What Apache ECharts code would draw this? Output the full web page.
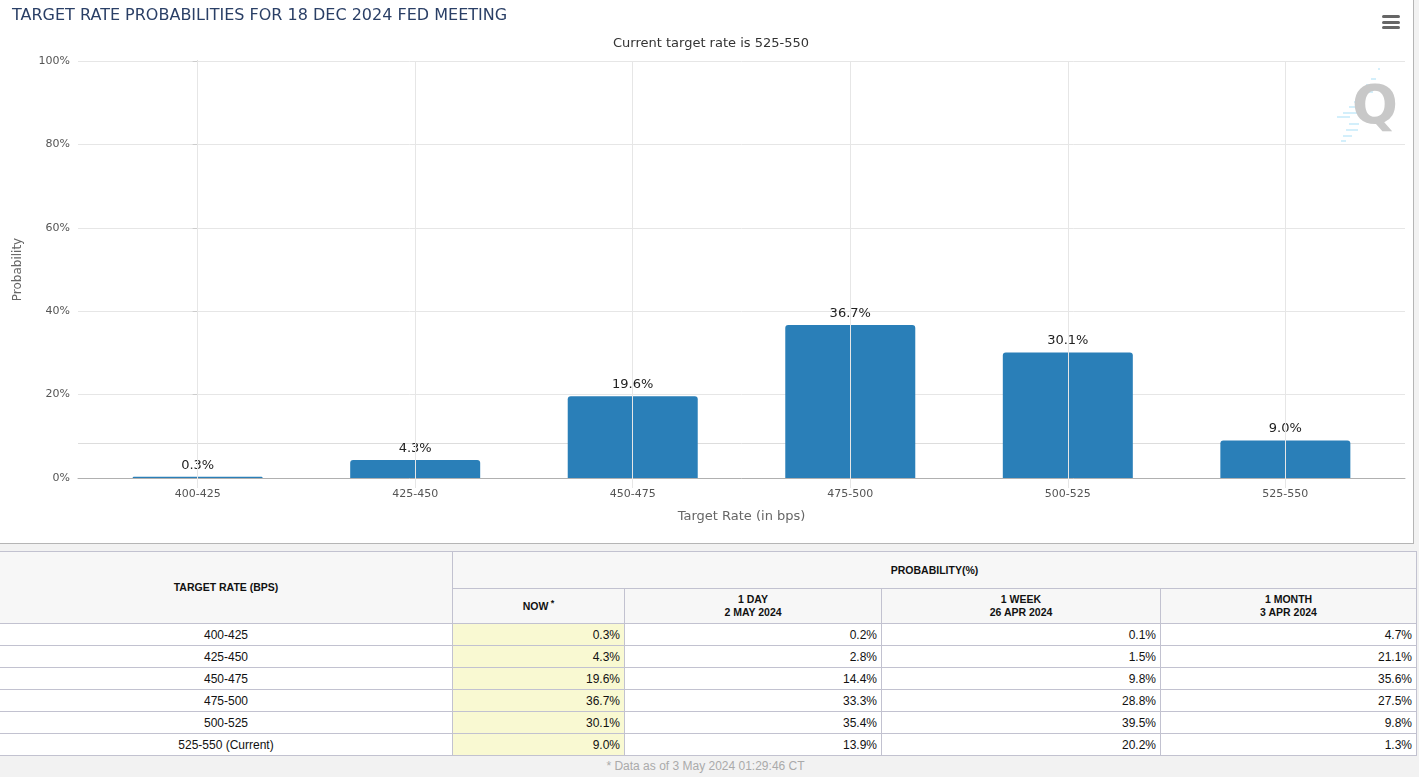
<!DOCTYPE html>
<html>
<head>
<meta charset="utf-8">
<title>Target rate probabilities</title>
<script src="https://cdn.jsdelivr.net/npm/echarts@6/dist/echarts.min.js"></script>
<style>
  html, body { margin: 0; padding: 0; width: 1419px; height: 777px; overflow: hidden; background: #f2f2f2; }
  #chart { position: absolute; left: 0; top: 0; width: 1413px; height: 543px; background: #fff; border-right: 1px solid #b5b5b5; border-bottom: 1px solid #b5b5b5; }
  #rates { position: absolute; left: -1px; top: 551px; width: 1417px; table-layout: fixed; border-collapse: collapse; font-family: "Liberation Sans", Arial, sans-serif; font-size: 12px; color: #111; }
  #rates th, #rates td { border: 1px solid #c2c2d0; padding: 0; box-sizing: border-box; }
  #rates th { background: #f7f7f7; font-size: 10.5px; line-height: 13px; font-weight: bold; text-align: center; }
  #rates td { background: #fff; height: 22px; text-align: right; padding-right: 4px; }
  #rates td.rate { text-align: center; padding-right: 0; }
  #rates td.now { background: #f9f9d2; }
  #rates sup { font-size: 9px; line-height: 0; }
  #note { position: absolute; left: 0; top: 756px; width: 1411px; height: 21px; line-height: 21px; text-align: center; font-family: "Liberation Sans", Arial, sans-serif; font-size: 12px; color: #aaa; }
</style>
</head>
<body>
<div id="chart"></div>
<table id="rates">
  <colgroup><col style="width:453px"><col style="width:172px"><col style="width:257px"><col style="width:279px"><col style="width:256px"></colgroup>
  <thead>
    <tr style="height:37px"><th rowspan="2">TARGET RATE (BPS)</th><th colspan="4">PROBABILITY(%)</th></tr>
    <tr style="height:35px" id="periods"></tr>
  </thead>
  <tbody id="rows"></tbody>
</table>
<div id="note">* Data as of 3 May 2024 01:29:46 CT</div>
<script>
// target rate buckets, values
const categories = ['400-425', '425-450', '450-475', '475-500', '500-525', '525-550'];
const nowValues = [0.3, 4.3, 19.6, 36.7, 30.1, 9.0];
const dayValues = [0.2, 2.8, 14.4, 33.3, 35.4, 13.9];
const weekValues = [0.1, 1.5, 9.8, 28.8, 39.5, 20.2];
const monthValues = [4.7, 21.1, 35.6, 27.5, 9.8, 1.3];
const periods = ['NOW<sup> *</sup>', '1 DAY<br>2 MAY 2024', '1 WEEK<br>26 APR 2024', '1 MONTH<br>3 APR 2024'];
const currentRate = '525-550';
const thresholdLine = 8.4;

// table under the chart
document.getElementById('periods').innerHTML = periods.map(p => '<th>' + p + '</th>').join('');
document.getElementById('rows').innerHTML = categories.map((c, i) => {
  const label = c === currentRate ? c + ' (Current)' : c;
  return '<tr><td class="rate">' + label + '</td>' +
    '<td class="now">' + nowValues[i].toFixed(1) + '%</td>' +
    '<td>' + dayValues[i].toFixed(1) + '%</td>' +
    '<td>' + weekValues[i].toFixed(1) + '%</td>' +
    '<td>' + monthValues[i].toFixed(1) + '%</td></tr>';
}).join('');

const font = '"DejaVu Sans", Verdana, sans-serif';
const myChart = echarts.init(document.getElementById('chart'));
const positions = categories.map((c, i) => i);

// little stripes of the logo behind the Q
const stripes = [
  [1378, 68, 2], [1371, 78, 5], [1366, 84, 8], [1361, 91, 12], [1354, 101, 7], [1349, 106, 10],
  [1343, 112, 16], [1337, 116, 13], [1349, 123, 10], [1346, 129, 12], [1343, 135, 9], [1341, 140, 5]
].map(s => ({
  type: 'rect',
  shape: { x: s[0], y: s[1], width: s[2], height: 2 },
  style: { fill: '#d3effb' }
}));

const option = {
  animation: false,
  textStyle: { fontFamily: font },
  title: [
    { text: 'TARGET RATE PROBABILITIES FOR 18 DEC 2024 FED MEETING', left: 7, top: 3,
      textStyle: { fontSize: 16, fontWeight: 'normal', color: '#2a3f66', fontFamily: font } },
    { text: 'Current target rate is 525-550', left: 706, top: 32, textAlign: 'center',
      textStyle: { fontSize: 13, fontWeight: 'normal', color: '#333', fontFamily: font } }
  ],
  grid: { left: 78, right: 8, top: 61, bottom: 65 },
  xAxis: {
    type: 'value',
    min: -0.55,
    max: 5.55,
    name: 'Target Rate (in bps)',
    nameLocation: 'middle',
    nameGap: 32,
    nameTextStyle: { fontSize: 13, color: '#666' },
    z: 3,
    axisLine: { lineStyle: { color: '#b0b0b0' } },
    axisTick: { show: true, length: 10, customValues: positions, lineStyle: { color: '#e6e6e6' } },
    axisLabel: { customValues: positions, color: '#555', fontSize: 11, margin: 11,
      formatter: v => categories[v] },
    splitLine: { show: true, lineStyle: { color: '#e6e6e6' } }
  },
  yAxis: {
    type: 'value',
    min: 0,
    max: 100,
    interval: 20,
    name: 'Probability',
    nameLocation: 'middle',
    nameGap: 54,
    nameTextStyle: { fontSize: 12, color: '#666' },
    axisLine: { show: true, lineStyle: { color: '#b0b0b0' } },
    axisTick: { show: true, length: 5, lineStyle: { color: '#ccc' } },
    axisLabel: { formatter: '{value}%', color: '#555', fontSize: 11, margin: 8 },
    splitLine: { lineStyle: { color: '#e6e6e6' } }
  },
  series: [{
    type: 'bar',
    barWidth: 130,
    data: nowValues.map((v, i) => [i, v]),
    itemStyle: { color: '#2a7fb8', borderRadius: [3, 3, 0, 0] },
    label: { show: true, position: 'top', distance: 5, color: '#222', fontSize: 13,
      formatter: p => p.value[1].toFixed(1) + '%' },
    markLine: {
      z: 1,
      silent: true,
      symbol: 'none',
      label: { show: false },
      lineStyle: { color: '#ddd', type: 'solid', width: 1 },
      data: [{ yAxis: thresholdLine }]
    }
  }],
  graphic: stripes.concat([
    { type: 'text', left: 1352, top: 82, style: { text: 'Q', fontSize: 54, fontWeight: 'bold', fontFamily: font, fill: '#c8c8c8' } },
    // menu button
    { type: 'rect', shape: { x: 1382, y: 15, width: 18, height: 3, r: 1.5 }, style: { fill: '#666' } },
    { type: 'rect', shape: { x: 1382, y: 21, width: 18, height: 3, r: 1.5 }, style: { fill: '#666' } },
    { type: 'rect', shape: { x: 1382, y: 26, width: 18, height: 3, r: 1.5 }, style: { fill: '#666' } }
  ])
};

myChart.setOption(option);
</script>
</body>
</html>
